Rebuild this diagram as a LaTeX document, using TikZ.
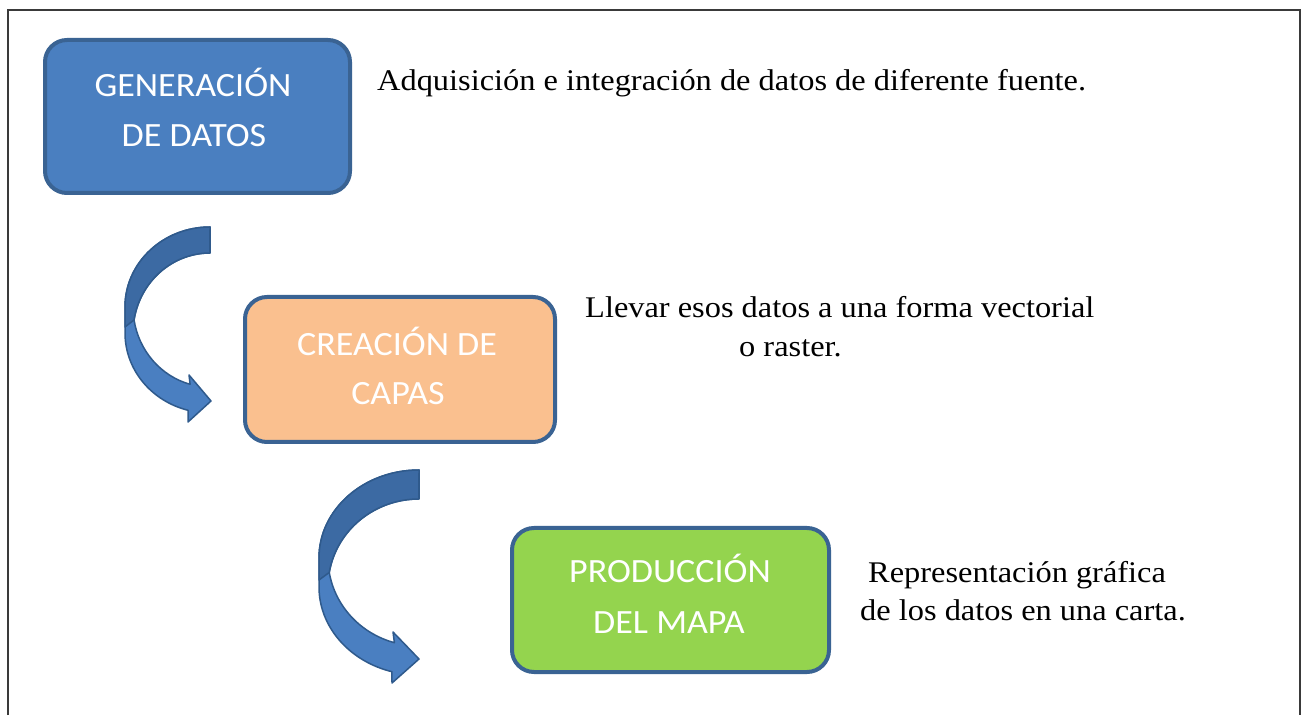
\documentclass[tikz,border=0pt]{standalone}
\usepackage{fontspec}
\newfontfamily\boxfont{Carlito}[FakeStretch=1.06]
\newfontfamily\sidefont{Liberation Serif}[FakeStretch=1.08]
\definecolor{frameC}{HTML}{3A3A3A}
\definecolor{bordC}{HTML}{3A6393}
\definecolor{blueF}{HTML}{4A7FC0}
\definecolor{peachF}{HTML}{FAC08F}
\definecolor{greenF}{HTML}{94D44E}
\definecolor{arrBack}{HTML}{3C6AA3}
\definecolor{arrFront}{HTML}{4A7FC1}
\definecolor{arrLine}{HTML}{2F5A8C}
\tikzset{
  boxsty/.style={draw=bordC, line width=4pt, rounded corners=22pt, rectangle, inner sep=0pt},
  boxtxt/.style={font=\boxfont\fontsize{34}{40}\selectfont, text=white, inner sep=0pt, anchor=base},
  sidetxt/.style={font=\sidefont\fontsize{30}{38}\selectfont, text=black, inner sep=0pt, anchor=base west},
  arrback/.style={fill=arrBack, draw=arrLine, line width=1.5pt, line join=round},
  arrfront/.style={fill=arrFront, draw=arrLine, line width=1.5pt, line join=round}
}
\begin{document}
\begin{tikzpicture}[x=1pt,y=1pt]
\useasboundingbox (0,0) rectangle (1306,715);
\fill[white] (0,0) rectangle (1306,715);
% frame
\coordinate (fbl) at (8,0);
\coordinate (ftl) at (8,705);
\coordinate (ftr) at (1300,705);
\coordinate (fbr) at (1300,0);
\draw[frameC, line width=1.6pt] (fbl) -- (ftl) -- (ftr) -- (fbr);

% boxes
\node[boxsty, fill=blueF, minimum width=305pt, minimum height=153pt] (gen) at (197.5,598.5) {};
\node[boxsty, fill=peachF, minimum width=310pt, minimum height=145pt] (cap) at (400,345.5) {};
\node[boxsty, fill=greenF, minimum width=317pt, minimum height=144pt] (pro) at (670.5,115) {};

% box texts
\node[boxtxt] (gen1) at (193,618) {GENERACIÓN};
\node[boxtxt] (gen2) at (194,568) {DE DATOS};
\node[boxtxt] (cap1) at (397,359) {CREACIÓN DE};
\node[boxtxt] (cap2) at (398,310) {CAPAS};
\node[boxtxt] (pro1) at (670,132) {PRODUCCIÓN};
\node[boxtxt] (pro2) at (669,82) {DEL MAPA};

% side texts
\node[sidetxt] (s1) at (377,624) {Adquisición e integración de datos de diferente fuente.};
\node[sidetxt] (s2a) at (585,397) {Llevar esos datos a una forma vectorial};
\node[sidetxt] (s2b) at (739,358) {o raster.};
\node[sidetxt] (s3a) at (868,132) {Representación gráfica};
\node[sidetxt] (s3b) at (860,95) {de los datos en una carta.};

% curved arrow 1 (from box 1 towards box 2)
\draw[arrfront] (210,488) arc[start angle=90, end angle=180, x radius=85pt, y radius=80pt]
  -- (125,382) arc[start angle=180, end angle=255, x radius=85pt, y radius=80pt]
  -- (188,293) -- (211,314) -- (189,340) -- (190.1,330.7)
  arc[start angle=255, end angle=189.35, x radius=77pt, y radius=80pt]
  arc[start angle=170.65, end angle=90, x radius=77pt, y radius=80pt] -- cycle;
\draw[arrback] (210,488) arc[start angle=90, end angle=180, x radius=85pt, y radius=80pt]
  -- (125,388) -- (134,395)
  arc[start angle=170.65, end angle=90, x radius=77pt, y radius=80pt] -- cycle;

% curved arrow 2 (from box 2 towards box 3)
\draw[arrfront] (419,245) arc[start angle=90, end angle=180, x radius=100pt, y radius=88pt]
  -- (319,128) arc[start angle=180, end angle=254.3, x radius=100pt, y radius=88pt]
  -- (392,32) -- (419,56) -- (393,83) -- (394.4,72.3)
  arc[start angle=254.3, end angle=189.48, x radius=91pt, y radius=88pt]
  arc[start angle=170.52, end angle=90, x radius=91pt, y radius=88pt] -- cycle;
\draw[arrback] (419,245) arc[start angle=90, end angle=180, x radius=100pt, y radius=88pt]
  -- (319,135) -- (329.2,142.5)
  arc[start angle=170.52, end angle=90, x radius=91pt, y radius=88pt] -- cycle;
\end{tikzpicture}
\end{document}
